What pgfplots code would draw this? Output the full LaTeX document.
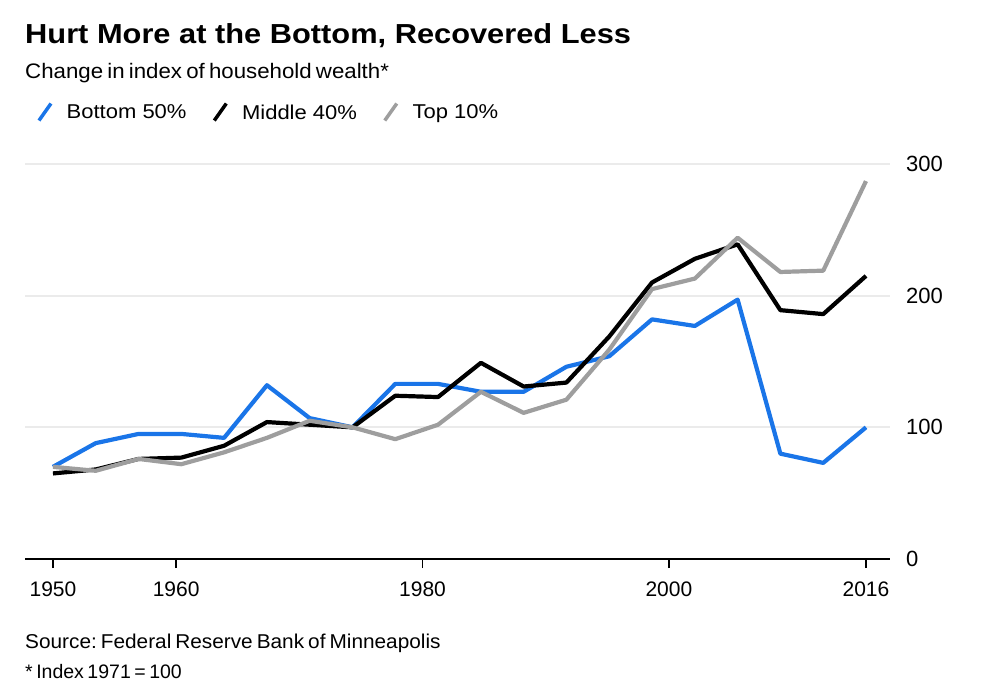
\documentclass[border=0pt]{standalone}
\usepackage{fontspec}
\setmainfont{Liberation Sans}
\newfontfamily\titlefont{Liberation Sans}[FakeStretch=1.12]
\newfontfamily\subfont{Liberation Sans}[FakeStretch=1.06]
\newfontfamily\legfont{Liberation Sans}[FakeStretch=1.10]
\newfontfamily\srcfont{Liberation Sans}[FakeStretch=1.04]
\usepackage{pgfplots}
\pgfplotsset{compat=1.18}
\definecolor{bblue}{HTML}{1A75E8}
\definecolor{bgray}{HTML}{9E9E9E}
\definecolor{gridc}{HTML}{EBEBEB}
\frenchspacing

\begin{document}
\begin{tikzpicture}
\path[use as bounding box] (0,0) rectangle (998bp,-695bp);
\node[anchor=base west, inner sep=0, font=\titlefont\bfseries\fontsize{27.5bp}{30bp}\selectfont] at (25bp,-43bp) {Hurt More at the Bottom, Recovered Less};
\node[anchor=base west, inner sep=0, font=\subfont\fontsize{21bp}{24bp}\selectfont] at (25bp,-78bp) {\spaceskip=0.2em Change in index of household wealth*};
\begin{axis}[
  at={(25bp,-559bp)}, anchor=south west,
  scale only axis, width=865bp, height=395bp,
  xmin=1947.73, xmax=2017.95, ymin=0, ymax=300,
  axis x line*=bottom, axis y line*=right,
  axis line style={-},
  y axis line style={draw=none},
  x axis line style={line width=1.5bp, black},
  xtick={1950,1960,1980,2000,2016}, xticklabels={1950,1960,1980,2000,2016},
  ytick={0,100,200,300}, yticklabels={0,100,200,300},
  ymajorgrids, grid style={gridc, line width=2bp},
  xtick style={black, line width=1.5bp},
  ytick style={draw=none},
  tick align=outside, major tick length=9bp,
  x tick label style={font=\fontsize{21bp}{24bp}\selectfont, anchor=north, inner sep=0, yshift=-14bp},
  y tick label style={font=\fontsize{22bp}{24bp}\selectfont, anchor=west, inner sep=0, xshift=7bp},
  legend style={at={(axis description cs:0.0139,1.1316)}, anchor=west, draw=none, fill=none,
    legend columns=3, font=\legfont\fontsize{20bp}{22bp}\selectfont, nodes={inner sep=0},
    /tikz/every odd column/.style={column sep=14bp},
    /tikz/every even column/.style={column sep=26bp}, inner sep=0},
  legend cell align=left,
  legend image code/.code={\draw[#1, line width=3.5bp] (0bp,-8bp) -- (12bp,9bp);},
  clip=false,
]
\addplot[bblue, line width=4.2bp, line join=round] coordinates {
(1950,70) (1953.47,88) (1956.95,95) (1960.42,95) (1963.89,92) (1967.37,132) (1970.84,107) (1974.32,100) (1977.79,133) (1981.26,133) (1984.74,127) (1988.21,127) (1991.68,146) (1995.16,154) (1998.63,182) (2002.11,177) (2005.58,197) (2009.05,80) (2012.53,73) (2016,100)};
\addlegendentry{Bottom 50\%}
\addplot[black, line width=4.2bp, line join=round] coordinates {
(1950,65) (1953.47,68) (1956.95,76) (1960.42,77) (1963.89,86) (1967.37,104) (1970.84,102) (1974.32,100) (1977.79,124) (1981.26,123) (1984.74,149) (1988.21,131) (1991.68,134) (1995.16,169) (1998.63,210) (2002.11,228) (2005.58,239) (2009.05,189) (2012.53,186) (2016,215)};
\addlegendentry{Middle 40\%}
\addplot[bgray, line width=4.2bp, line join=round] coordinates {
(1950,70) (1953.47,67) (1956.95,76) (1960.42,72) (1963.89,81) (1967.37,92) (1970.84,105) (1974.32,100) (1977.79,91) (1981.26,102) (1984.74,127) (1988.21,111) (1991.68,121) (1995.16,159) (1998.63,205) (2002.11,213) (2005.58,244) (2009.05,218) (2012.53,219) (2016,287)};
\addlegendentry{Top 10\%}
\end{axis}
\node[anchor=base west, inner sep=0, font=\srcfont\fontsize{20bp}{22bp}\selectfont] at (25bp,-648bp) {\frenchspacing\spaceskip=0.2em Source: Federal Reserve Bank of Minneapolis};
\node[anchor=base west, inner sep=0, font=\fontsize{19.5bp}{22bp}\selectfont] at (25bp,-678bp) {\spaceskip=0.18em * Index 1971 = 100};
\end{tikzpicture}
\end{document}
